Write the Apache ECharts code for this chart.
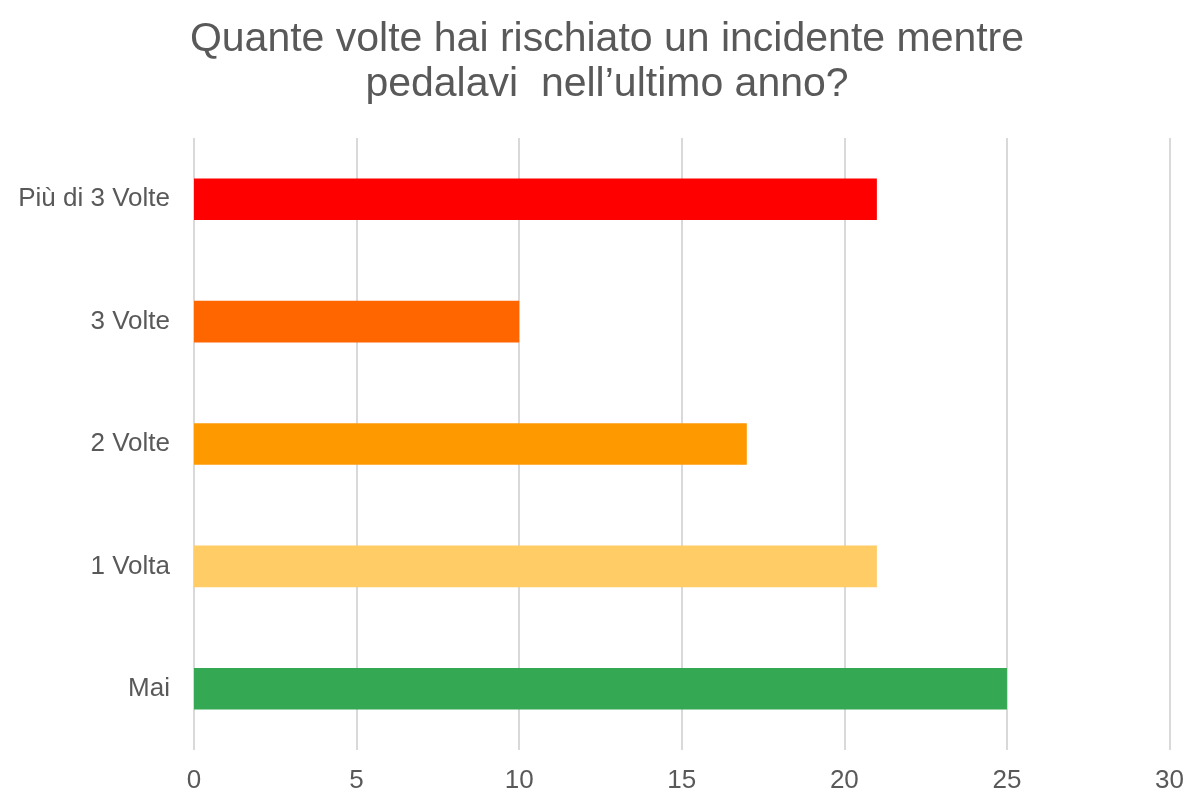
<!DOCTYPE html>
<html>
<head>
<meta charset="utf-8">
<script src="https://cdn.jsdelivr.net/npm/echarts@6/dist/echarts.min.js"></script>
<style>
  html, body { margin: 0; padding: 0; background: #fff; }
  #chart { width: 1187px; height: 794px; }
</style>
</head>
<body>
<div id="chart"></div>
<script>
// categories from top to bottom as shown
var categories = ['Più di 3 Volte', '3 Volte', '2 Volte', '1 Volta', 'Mai'];
var values = [21, 10, 17, 21, 25];
var barColors = ['#FF0000', '#FF6600', '#FF9900', '#FFCC66', '#34A853'];

var chart = echarts.init(document.getElementById('chart'));
chart.setOption({
  animation: false,
  title: {
    text: 'Quante volte hai rischiato un incidente mentre\npedalavi  nell\u2019ultimo anno?',
    left: 602,
    top: 12,
    textAlign: 'center',
    textStyle: {
      fontFamily: 'Liberation Sans',
      fontSize: 41,
      fontWeight: 'normal',
      color: '#595959',
      lineHeight: 45
    }
  },
  grid: {
    left: 194,
    right: 17,
    top: 138,
    bottom: 43
  },
  xAxis: {
    type: 'value',
    min: 0,
    max: 30,
    interval: 5,
    axisLine: { show: false },
    axisTick: { show: false },
    axisLabel: {
      fontFamily: 'Liberation Sans',
      fontSize: 26,
      color: '#595959',
      margin: 18
    },
    splitLine: { lineStyle: { color: '#D9D9D9', width: 2 } }
  },
  yAxis: {
    type: 'category',
    data: categories,
    inverse: true,
    axisLine: { show: false },
    axisTick: { show: false },
    axisLabel: {
      fontFamily: 'Liberation Sans',
      fontSize: 26,
      color: '#595959',
      margin: 24
    }
  },
  series: [{
    type: 'bar',
    barWidth: '34%',
    data: values.map(function (v, i) {
      return { value: v, itemStyle: { color: barColors[i] } };
    })
  }]
});
</script>
</body>
</html>
